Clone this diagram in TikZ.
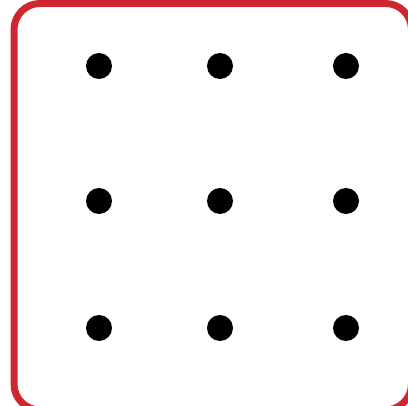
\documentclass[tikz,border=0pt]{standalone}
\definecolor{framered}{RGB}{208,38,48}
\begin{document}
\begin{tikzpicture}[x=1pt,y=-1pt,
  dot/.style={circle,fill=black,inner sep=0pt,minimum size=26pt},
  frame/.style={draw=framered,line width=7pt,rounded corners=26pt}]
\useasboundingbox (0,0) rectangle (408,406);
\clip (0,0) rectangle (408,406);
\fill[white] (0,0) rectangle (408,406);
\draw[frame] (14,3.5) rectangle (411.5,410);
\foreach \c/\x in {1/99,2/220,3/346}{
  \foreach \r/\y in {1/66,2/201,3/328}{
    \node[dot] (d\r\c) at (\x,\y) {};
  }
}
\end{tikzpicture}
\end{document}
